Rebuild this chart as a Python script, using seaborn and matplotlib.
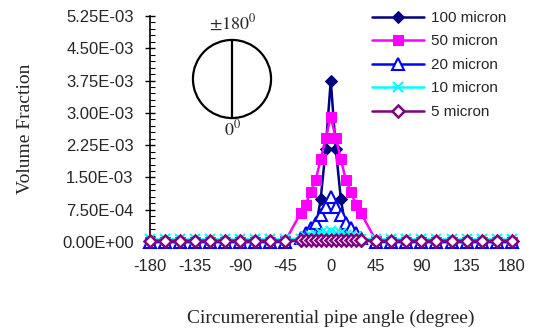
import matplotlib
matplotlib.use("Agg")
import matplotlib.pyplot as plt
import seaborn as sns
from matplotlib.patches import Circle
from matplotlib.ticker import MultipleLocator, FuncFormatter

# angle grid (degrees): coarse 15 deg outside +/-30, 5 deg in the core
angles = [-180, -165, -150, -135, -120, -105, -90, -75, -60, -45,
          -30, -25, -20, -15, -10, -5, 0, 5, 10, 15, 20, 25, 30,
          45, 60, 75, 90, 105, 120, 135, 150, 165, 180]

# volume fraction (x1e-3)
vf_100 = [0.02, 0.02, 0.02, 0.02, 0.02, 0.02, 0.02, 0.02, 0.02, 0.02,
          0.03, 0.05, 0.10, 0.30, 1.00, 2.17, 3.75, 2.17, 1.00, 0.30, 0.10, 0.05, 0.03,
          0.02, 0.02, 0.02, 0.02, 0.02, 0.02, 0.02, 0.02, 0.02, 0.02]
vf_50 = [0.0, 0.0, 0.0, 0.0, 0.0, 0.0, 0.0, 0.0, 0.0, 0.03,
         0.67, 0.86, 1.17, 1.44, 1.92, 2.42, 2.90, 2.42, 1.92, 1.44, 1.17, 0.86, 0.67,
         0.03, 0.0, 0.0, 0.0, 0.0, 0.0, 0.0, 0.0, 0.0, 0.0]
vf_20 = [0.0, 0.0, 0.0, 0.0, 0.0, 0.0, 0.0, 0.0, 0.0, 0.0,
         0.10, 0.22, 0.32, 0.43, 0.62, 0.82, 1.05, 0.82, 0.62, 0.43, 0.32, 0.22, 0.10,
         0.0, 0.0, 0.0, 0.0, 0.0, 0.0, 0.0, 0.0, 0.0, 0.0]
vf_10 = [0.06, 0.06, 0.06, 0.06, 0.06, 0.06, 0.06, 0.06, 0.06, 0.06,
         0.08, 0.12, 0.15, 0.17, 0.20, 0.22, 0.25, 0.22, 0.20, 0.17, 0.15, 0.12, 0.08,
         0.06, 0.06, 0.06, 0.06, 0.06, 0.06, 0.06, 0.06, 0.06, 0.06]
vf_5 = [0.03] * 10 + [0.04, 0.05, 0.05, 0.05, 0.05, 0.05, 0.05, 0.05, 0.05, 0.05, 0.05, 0.05, 0.04] + [0.03] * 10

labels = ["100 micron", "50 micron", "20 micron", "10 micron", "5 micron"]
y_ticks = [0.0, 0.75e-3, 1.5e-3, 2.25e-3, 3.0e-3, 3.75e-3, 4.5e-3, 5.25e-3]

sns.set_theme(style="white")
plt.rcParams["font.family"] = ["Liberation Sans", "DejaVu Sans"]
plt.rcParams["mathtext.fontset"] = "stix"
plt.rcParams["axes.unicode_minus"] = False

fig = plt.figure(figsize=(5.33, 3.29), dpi=100)
ax = fig.add_axes([149.5 / 533, 87 / 329, (512 - 149.5) / 533, 226 / 329])

styles = [
    dict(color="#000080", marker="D", ms=6.5, mfc="#000080", mec="#000080"),
    dict(color="#FF00FF", marker="s", ms=7.5, mfc="#FF00FF", mec="#FF00FF"),
    dict(color="#0000FF", marker="^", ms=9, mfc="white", mec="#0000FF", mew=1.5),
    dict(color="#00FFFF", marker="x", ms=7, mec="#00FFFF", mew=1.5),
    dict(color="#800080", marker="D", ms=6.5, mfc="white", mec="#800080", mew=1.8),
]
series = [vf_100, vf_50, vf_20, vf_10, vf_5]
for vals, lab, st in zip(series, labels, styles):
    sns.lineplot(x=angles, y=[v * 1e-3 for v in vals], ax=ax, label=lab,
                 lw=1.8, clip_on=False, zorder=3, **st)

ax.set_xlim(-180, 180)
ax.set_ylim(0, 5.25e-3)
ax.set_xticks([-180, -135, -90, -45, 0, 45, 90, 135, 180])
ax.set_yticks(y_ticks)
ax.yaxis.set_major_formatter(FuncFormatter(lambda v, p: f"{v:.2E}"))
ax.yaxis.set_minor_locator(MultipleLocator(1.5e-4))
ax.tick_params(axis="x", length=0, pad=12, labelsize=12)
ax.tick_params(axis="y", which="major", direction="inout", length=7, width=1,
               color="black", pad=8, labelsize=12, left=True)
ax.tick_params(axis="y", which="minor", direction="in", length=3.5, width=0.8,
               color="black", left=True)
for side in ["top", "right", "bottom"]:
    ax.spines[side].set_visible(False)
ax.spines["left"].set_color("black")
ax.spines["left"].set_linewidth(1.2)
ax.grid(False)

ax.set_xlabel("Circumererential pipe angle (degree)", family="Liberation Serif",
              fontsize=14, labelpad=26)
ax.set_ylabel("Volume Fraction", family="Liberation Serif", fontsize=14, labelpad=20)

leg = ax.legend(loc="upper left", bbox_to_anchor=(372 / 533, 1 - 11 / 329),
                bbox_transform=fig.transFigure, frameon=False, fontsize=11,
                handlelength=3.4, handletextpad=0.45, labelspacing=0.62,
                borderpad=0, borderaxespad=0)

# pipe cross-section sketch
cax = fig.add_axes([(232 - 41) / 533, 1 - (79 + 41) / 329, 82 / 533, 82 / 329])
cax.set_xlim(-1.05, 1.05)
cax.set_ylim(-1.05, 1.05)
cax.set_aspect("equal")
cax.axis("off")
cax.add_patch(Circle((0, 0), 1, fill=False, lw=1.6, ec="black"))
cax.plot([0, 0], [-1, 1], color="black", lw=1.6)
fig.text(233 / 533, 1 - 23 / 329, r"$\pm180^0$", ha="center", va="center", fontsize=13)
fig.text(233 / 533, 1 - 129 / 329, r"$0^0$", ha="center", va="center", fontsize=13)

fig.savefig("out.png", dpi=100)
